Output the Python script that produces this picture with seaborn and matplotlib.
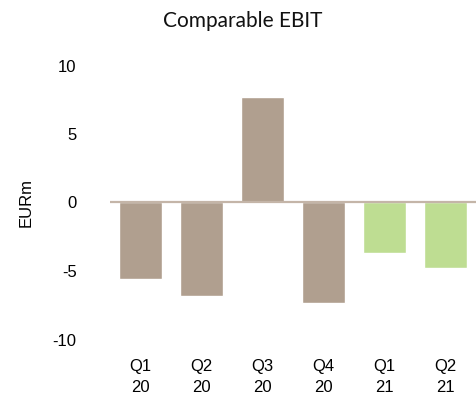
import matplotlib
matplotlib.use("Agg")
import matplotlib.pyplot as plt
import seaborn as sns
import pandas as pd

# Quarterly comparable EBIT, EUR million
quarters = ["Q1\n20", "Q2\n20", "Q3\n20", "Q4\n20", "Q1\n21", "Q2\n21"]
ebit = [-5.6, -6.8, 7.7, -7.3, -3.7, -4.75]
year = ["2020", "2020", "2020", "2020", "2021", "2021"]
yticks = [-10, -5, 0, 5, 10]

palette = {"2020": "#b09f8f", "2021": "#bedd92"}

df = pd.DataFrame({"quarter": quarters, "ebit": ebit, "year": year})

sns.set_theme(style="white")
plt.rcParams["font.family"] = ["Liberation Sans", "DejaVu Sans"]
plt.rcParams["text.color"] = "black"
plt.rcParams["xtick.color"] = "black"
plt.rcParams["ytick.color"] = "black"
plt.rcParams["axes.labelcolor"] = "black"

fig = plt.figure(figsize=(4.77, 4.01), dpi=100)
ax = fig.add_axes([110 / 477, 1 - 339.5 / 401, 366 / 477, 274 / 401])

sns.barplot(data=df, x="quarter", y="ebit", hue="year", palette=palette,
            order=quarters, dodge=False, width=0.7, legend=False,
            saturation=1, ax=ax)

ax.axhline(0, color="#c4b5a8", lw=1.6, zorder=3)
ax.set_xlim(-0.5, 5.5)
ax.set_ylim(-10, 10)
ax.set_yticks(yticks)
ax.set_yticklabels([str(t) for t in yticks], fontsize=12)
ax.tick_params(axis="x", labelsize=12, pad=14, length=0, labelcolor="black")
ax.tick_params(axis="y", pad=24, length=0, labelcolor="black")
for lbl in ax.get_xticklabels():
    lbl.set_linespacing(1.5)
ax.set_xlabel("")
ax.set_ylabel("EURm", fontsize=12, color="black")
ax.yaxis.set_label_coords(-0.21, 0.5)
sns.despine(ax=ax, left=True, bottom=True)

fig.text(243 / 477, 1 - 21 / 401, "Comparable EBIT", ha="center", va="center",
         fontsize=15, family=["Lato", "DejaVu Sans"], color="#111111")

fig.savefig("out.png", dpi=100)
